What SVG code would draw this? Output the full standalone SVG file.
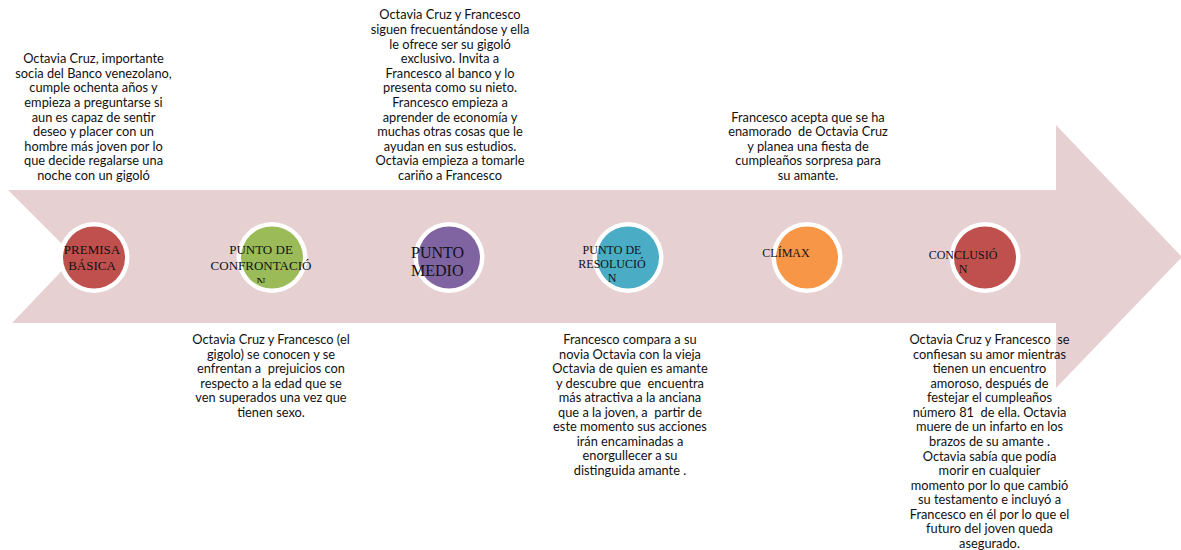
<svg xmlns="http://www.w3.org/2000/svg" width="1181" height="550" viewBox="0 0 1181 550">
<style>
.body{font-family:Lato,"Liberation Sans",sans-serif;font-size:12.8px;fill:#111;text-anchor:middle;white-space:pre}
.lbl{font-family:"Liberation Serif","Times New Roman",serif;fill:#111;text-anchor:middle;white-space:pre}
.ring{fill:#fff}
</style>
<defs>
<clipPath id="clipConf"><rect x="190" y="235" width="140" height="48"/></clipPath>
</defs>
<g id="arrow">
<path d="M8,190 L1056,190 L1056,125 L1182,257 L1056,388 L1056,323 L12,323 L75,257 Z" fill="#E7D0D1"/>
</g>
<g id="connectors"></g>
<g id="node-premisa">
<circle class="ring" cx="94" cy="257.5" r="35.5"/>
<circle cx="94" cy="257.5" r="31" fill="#C0504D"/>
<text class="lbl" font-size="13" x="92"><tspan x="92" y="254">PREMISA</tspan><tspan x="92" y="270">BÁSICA</tspan></text>
</g>
<g id="node-confrontacion">
<circle class="ring" cx="272" cy="257.5" r="35.5"/>
<circle cx="272" cy="257.5" r="31" fill="#9BBB59"/>
<text class="lbl" font-size="13" clip-path="url(#clipConf)"><tspan x="261" y="254">PUNTO DE</tspan><tspan x="261" y="270">CONFRONTACIÓ</tspan><tspan x="261" y="286">N</tspan></text>
</g>
<g id="node-medio">
<circle class="ring" cx="449" cy="257.5" r="35.5"/>
<circle cx="449" cy="257.5" r="31" fill="#8064A2"/>
<text class="lbl" font-size="16" style="text-anchor:start"><tspan x="411" y="258">PUNTO</tspan><tspan x="411" y="276">MEDIO</tspan></text>
</g>
<g id="node-resolucion">
<circle class="ring" cx="628" cy="257.5" r="35.5"/>
<circle cx="628" cy="257.5" r="31" fill="#4BACC6"/>
<text class="lbl" font-size="12"><tspan x="612" y="254">PUNTO DE</tspan><tspan x="612" y="268">RESOLUCIÓ</tspan><tspan x="612" y="282">N</tspan></text>
</g>
<g id="node-climax">
<circle class="ring" cx="807" cy="257.5" r="35.5"/>
<circle cx="807" cy="257.5" r="31" fill="#F79646"/>
<text class="lbl" font-size="12"><tspan x="786" y="257">CLÍMAX</tspan></text>
</g>
<g id="node-conclusion">
<circle class="ring" cx="985" cy="257.5" r="35.5"/>
<circle cx="985" cy="257.5" r="31" fill="#C0504D"/>
<text class="lbl" font-size="12"><tspan x="963" y="259">CONCLUSIÓ</tspan><tspan x="963" y="273">N</tspan></text>
</g>
<g id="text-premisa">
<text class="body"><tspan x="93.5" y="63.2">Octavia Cruz, importante</tspan><tspan x="93.5" dy="14.6">socia del Banco venezolano,</tspan><tspan x="93.5" dy="14.6">cumple ochenta años y</tspan><tspan x="93.5" dy="14.6">empieza a preguntarse si</tspan><tspan x="93.5" dy="14.6">aun es capaz de sentir</tspan><tspan x="93.5" dy="14.6">deseo y placer con un</tspan><tspan x="93.5" dy="14.6">hombre más joven por lo</tspan><tspan x="93.5" dy="14.6">que decide regalarse una</tspan><tspan x="93.5" dy="14.6">noche con un gigoló</tspan></text>
</g>
<g id="text-medio">
<text class="body"><tspan x="450" y="19.4">Octavia Cruz y Francesco</tspan><tspan x="450" dy="14.6">siguen frecuentándose y ella</tspan><tspan x="450" dy="14.6">le ofrece ser su gigoló</tspan><tspan x="450" dy="14.6">exclusivo. Invita a</tspan><tspan x="450" dy="14.6">Francesco al banco y lo</tspan><tspan x="450" dy="14.6">presenta como su nieto.</tspan><tspan x="450" dy="14.6">Francesco empieza a</tspan><tspan x="450" dy="14.6">aprender de economía y</tspan><tspan x="450" dy="14.6">muchas otras cosas que le</tspan><tspan x="450" dy="14.6">ayudan en sus estudios.</tspan><tspan x="450" dy="14.6">Octavia empieza a tomarle</tspan><tspan x="450" dy="14.6">cariño a Francesco</tspan></text>
</g>
<g id="text-climax">
<text class="body"><tspan x="808" y="121.6">Francesco acepta que se ha</tspan><tspan x="808" dy="14.6">enamorado  de Octavia Cruz</tspan><tspan x="808" dy="14.6">y planea una fiesta de</tspan><tspan x="808" dy="14.6">cumpleaños sorpresa para</tspan><tspan x="808" dy="14.6">su amante.</tspan></text>
</g>
<g id="text-confrontacion">
<text class="body"><tspan x="271" y="344">Octavia Cruz y Francesco (el</tspan><tspan x="271" dy="14.5">gigolo) se conocen y se</tspan><tspan x="271" dy="14.5">enfrentan a  prejuicios con</tspan><tspan x="271" dy="14.5">respecto a la edad que se</tspan><tspan x="271" dy="14.5">ven superados una vez que</tspan><tspan x="271" dy="14.5">tienen sexo.</tspan></text>
</g>
<g id="text-resolucion">
<text class="body"><tspan x="630" y="344">Francesco compara a su</tspan><tspan x="630" dy="14.5">novia Octavia con la vieja</tspan><tspan x="630" dy="14.5">Octavia de quien es amante</tspan><tspan x="630" dy="14.5">y descubre que  encuentra</tspan><tspan x="630" dy="14.5">más atractiva a la anciana</tspan><tspan x="630" dy="14.5">que a la joven, a  partir de</tspan><tspan x="630" dy="14.5">este momento sus acciones</tspan><tspan x="630" dy="14.5">irán encaminadas a</tspan><tspan x="630" dy="14.5">enorgullecer a su</tspan><tspan x="630" dy="14.5">distinguida amante .</tspan></text>
</g>
<g id="text-conclusion">
<text class="body"><tspan x="989.5" y="344">Octavia Cruz y Francesco  se</tspan><tspan x="989.5" dy="14.57">confiesan su amor mientras</tspan><tspan x="989.5" dy="14.57">tienen un encuentro</tspan><tspan x="989.5" dy="14.57">amoroso, después de</tspan><tspan x="989.5" dy="14.57">festejar el cumpleaños</tspan><tspan x="989.5" dy="14.57">número 81  de ella. Octavia</tspan><tspan x="989.5" dy="14.57">muere de un infarto en los</tspan><tspan x="989.5" dy="14.57">brazos de su amante .</tspan><tspan x="989.5" dy="14.57">Octavia sabía que podía</tspan><tspan x="989.5" dy="14.57">morir en cualquier</tspan><tspan x="989.5" dy="14.57">momento por lo que cambió</tspan><tspan x="989.5" dy="14.57">su testamento e incluyó a</tspan><tspan x="989.5" dy="14.57">Francesco en él por lo que el</tspan><tspan x="989.5" dy="14.57">futuro del joven queda</tspan><tspan x="989.5" dy="14.57">asegurado.</tspan></text>
</g>
</svg>
